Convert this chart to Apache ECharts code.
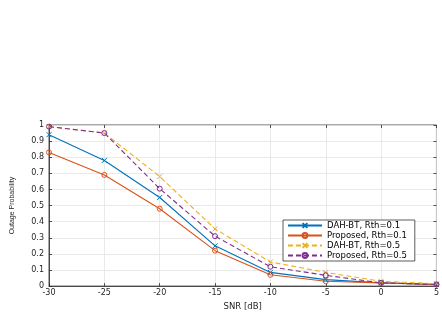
<!DOCTYPE html>
<html><head><meta charset="utf-8">
<script src="https://cdn.jsdelivr.net/npm/echarts@6/dist/echarts.min.js"></script>
<style>html,body{margin:0;padding:0;background:#fff}#c{width:442px;height:316px}</style>
</head><body><div id="c"></div>
<script>
const snr = [-30, -25, -20, -15, -10, -5, 0, 5];
const dahBt01 = [0.94, 0.78, 0.55, 0.25, 0.085, 0.04, 0.02, 0.01];
const prop01 = [0.83, 0.69, 0.48, 0.22, 0.07, 0.03, 0.02, 0.01];
const dahBt05 = [0.99, 0.95, 0.68, 0.355, 0.15, 0.085, 0.03, 0.015];
const prop05 = [0.99, 0.95, 0.605, 0.31, 0.12, 0.067, 0.02, 0.01];
const yTicks = [0, 0.1, 0.2, 0.3, 0.4, 0.5, 0.6, 0.7, 0.8, 0.9, 1];
const names = ['DAH-BT, Rth=0.1', 'Proposed, Rth=0.1', 'DAH-BT, Rth=0.5', 'Proposed, Rth=0.5'];
const colors = ['#0072BD', '#D95319', '#EDB120', '#7E2F8E'];
const dashedFlags = [false, false, true, true];
const symbols = ['cross', 'circle', 'cross', 'circle'];

function pts(arr){ return snr.map((x,i)=>[x,arr[i]]); }
const chart = echarts.init(document.getElementById('c'), null, {renderer:'canvas'});
const font = 'DejaVu Sans, Liberation Sans, sans-serif';
const crossPath = 'path://M0,0L10,10M10,0L0,10';
const symOf = s => s === 'cross' ? crossPath : 'circle';
const mk = (i, arr) => ({
  name: names[i], type: 'line', data: pts(arr), symbol: symOf(symbols[i]), symbolSize: 5,
  showSymbol: true,
  lineStyle: {color: colors[i], width: 1.1, type: dashedFlags[i] ? [5,3] : 'solid'},
  itemStyle: {color: symbols[i] === 'circle' ? 'rgba(255,255,255,0)' : colors[i], borderColor: colors[i], borderWidth: 1},
  emphasis: {disabled: true}, animation: false, z: 3
});
const tickStyle = {inside: true, length: 3, lineStyle: {color: '#262626', width: 0.8}};
chart.setOption({
  animation: false,
  grid: {left: 49, right: 2, top: 125, bottom: 23, show: true, borderColor: '#262626', borderWidth: 0.8, backgroundColor: '#fff'},
  legend: {
    orient: 'vertical', left: 283, top: 220, itemGap: 1, itemWidth: 34, itemHeight: 6,
    padding: [1, 8, 1, 4], backgroundColor: '#fff', borderColor: '#333', borderWidth: 0.8,
    textStyle: {fontSize: 8.5, fontFamily: font, color: '#000', padding: [0,0,0,0]},
    data: names
  },
  xAxis: [{
    type: 'value', min: -30, max: 5, interval: 5,
    name: 'SNR [dB]', nameLocation: 'middle', nameGap: 13,
    nameTextStyle: {fontSize: 8.5, fontFamily: font, color: '#262626'},
    axisLine: {show: true, onZero: false, lineStyle: {color: '#262626', width: 0.8}},
    axisTick: tickStyle,
    axisLabel: {fontSize: 8, fontFamily: font, color: '#262626', margin: 3},
    splitLine: {show: true, lineStyle: {color: '#e3e3e3', width: 0.8}}
  }, {
    type: 'value', min: -30, max: 5, interval: 5, position: 'top',
    axisLine: {show: false, onZero: false}, axisTick: tickStyle,
    axisLabel: {show: false}, splitLine: {show: false}
  }],
  yAxis: [{
    type: 'value', min: 0, max: 1, interval: 0.1,
    name: 'Outage Probability', nameLocation: 'middle', nameGap: 33,
    nameTextStyle: {fontSize: 7, fontFamily: 'Liberation Sans Narrow, Liberation Sans, sans-serif', color: '#262626'},
    axisLine: {show: true, onZero: false, lineStyle: {color: '#262626', width: 0.8}},
    axisTick: tickStyle,
    axisLabel: {fontSize: 8, fontFamily: font, color: '#262626', margin: 5,
      formatter: v => { const r = Math.round(v*10)/10; return yTicks.includes(r) ? String(r) : ''; }},
    splitLine: {show: true, lineStyle: {color: '#e3e3e3', width: 0.8}}
  }, {
    type: 'value', min: 0, max: 1, interval: 0.1, position: 'right',
    axisLine: {show: false, onZero: false}, axisTick: tickStyle,
    axisLabel: {show: false}, splitLine: {show: false}
  }],
  series: [
    mk(0, dahBt01),
    mk(1, prop01),
    mk(2, dahBt05),
    mk(3, prop05)
  ]
});
</script></body></html>
